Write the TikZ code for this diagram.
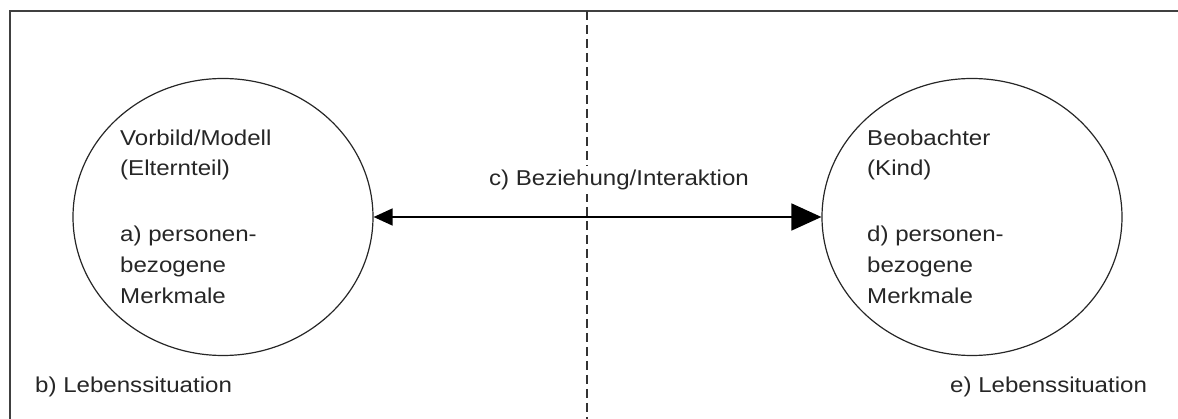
\documentclass[tikz,border=0pt]{standalone}
\usepackage{fontspec}
\setmainfont{Liberation Sans}[FakeStretch=1.12]
\usetikzlibrary{shapes.geometric,arrows.meta}
\begin{document}
\begin{tikzpicture}[x=1pt,y=-1pt,
  every node/.style={inner sep=0pt, text=black!85},
  person/.style={ellipse, draw=black!85, line width=1.2pt, minimum width=300pt, minimum height=277pt},
  lbl/.style={anchor=base west, font=\fontsize{21.5}{30}\selectfont},
  frameline/.style={draw=black!75, line width=2pt},
  divider/.style={draw=black!80, line width=1.3pt, dash pattern=on 9pt off 5pt},
  link/.style={draw=black, line width=1.6pt}]
  \useasboundingbox (0,0) rectangle (1178,419);
  % outer frame (top and left edges)
  \path[frameline] (10,430) -- (10,11) -- (1190,11);
  % vertical divider
  \coordinate (dtop) at (587,11);
  \coordinate (dbot) at (587,430);
  \path[divider] (dtop) -- (dbot);
  % the two persons
  \node[person] (model) at (223,217) {};
  \node[person] (obs) at (972,217) {};
  % labels inside the left ellipse
  \node[lbl] (m1) at (120,146) {Vorbild/Modell};
  \node[lbl] (m2) at (120,176) {(Elternteil)};
  \node[lbl] (m3) at (120,242) {a) personen-};
  \node[lbl] (m4) at (120,273) {bezogene};
  \node[lbl] (m5) at (120,304) {Merkmale};
  % labels inside the right ellipse
  \node[lbl] (o1) at (867,146) {Beobachter};
  \node[lbl] (o2) at (867,176) {(Kind)};
  \node[lbl] (o3) at (867,242) {d) personen-};
  \node[lbl] (o4) at (867,273) {bezogene};
  \node[lbl] (o5) at (867,304) {Merkmale};
  % living situations
  \node[lbl] (ls1) at (35,392) {b) Lebenssituation};
  \node[lbl] (ls2) at (950,392) {e) Lebenssituation};
  % relation between model and observer
  \path[link, {Triangle[length=19pt,width=17pt]}-{Triangle[length=30pt,width=27pt]}] (model.east) -- (obs.west);
  \node[lbl, anchor=base, fill=white, inner xsep=4pt, inner ysep=4pt] (rel) at (619,186) {c) Beziehung/Interaktion};
\end{tikzpicture}
\end{document}
